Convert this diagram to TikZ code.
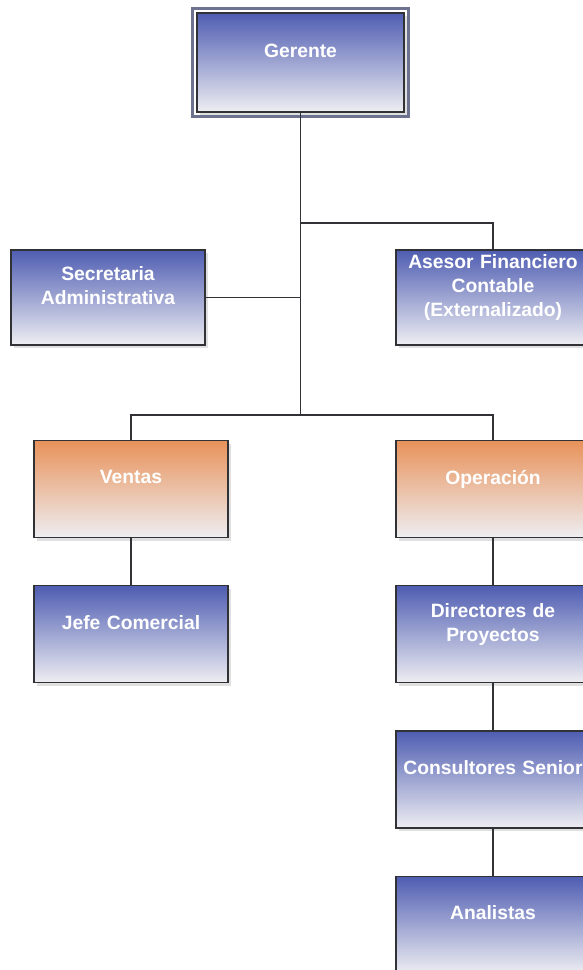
\documentclass[tikz,border=0pt]{standalone}
\usepackage{fontspec}
\setmainfont{Liberation Sans}
\usetikzlibrary{
    positioning,
    shadows,
    calc
}

\definecolor{boxblue}{HTML}{4F5DB2}
\definecolor{boxpale}{HTML}{EEEEF2}
\definecolor{boxorange}{HTML}{E8925A}
\definecolor{boxline}{HTML}{303236}
\definecolor{frameblue}{HTML}{6C7290}

\tikzset{
  orgbox/.style={
    draw=boxline,
    line width=1.3pt,
    minimum width=194pt,
    minimum height=97pt,
    text width=192pt,
    inner sep=1pt,
    align=center,
    font=\fontsize{19.3}{24}\selectfont\bfseries,
    text=white,
    top color=boxblue,
    bottom color=boxpale,
    drop shadow={shadow xshift=3pt, shadow yshift=-3pt, fill=black!12, opacity=1},
    execute at end node={\rule[-24pt]{0pt}{0pt}}
  },
  salesbox/.style={
    orgbox,
    top color=boxorange,
    bottom color=boxpale
  },
  orgline/.style={
    draw=boxline,
    line width=1.4pt
  },
  gerframe/.style={
    draw=frameblue,
    line width=3pt
  }
}

\begin{document}
\begin{tikzpicture}[x=1pt, y=1pt]

  \useasboundingbox (0,0) rectangle (583,-970);
  \clip (0,0) rectangle (583,-970);

  % top {{{
  \node[
    orgbox,
    minimum width=207pt,
    minimum height=99pt,
    text width=205pt
  ] (ger) at (300.5,-62.5)
  {Gerente};
  \draw[gerframe]
    ([shift={(-4pt,-4pt)}]ger.south west) rectangle
    ([shift={(4pt,4pt)}]ger.north east);
  % }}}

  % staff {{{
  \node[
    orgbox,
    minimum height=95pt
  ] (sec) at (108,-297.5)
  {Secretaria\\Administrativa};
  \node[
    orgbox,
    minimum height=95pt
  ] (ase) at (493,-297.5)
  {Asesor Financiero\\Contable\\(Externalizado)};
  % }}}

  % areas {{{
  \node[salesbox] (ven) at (131,-489) {Ventas};
  \node[salesbox] (ope) at (493,-489) {Operación};
  % }}}

  % below the areas {{{
  \node[orgbox, below=47pt of ven] (jef) {Jefe Comercial};
  \node[orgbox, below=47pt of ope] (dir) {Directores de\\Proyectos};
  \node[orgbox, below=47pt of dir] (con) {Consultores Senior};
  \node[orgbox, below=47pt of con] (ana) {Analistas};
  % }}}

  % lines {{{
  \coordinate (fork) at (300.5,-223);
  \coordinate (split) at (300.5,-415);
  \draw[orgline] (ger.south) -- (split);
  \draw[orgline] (fork) -| (ase.north);
  \draw[orgline] (sec.east) -- (sec.east -| ger.south);
  \draw[orgline] (ven.north) |- (split) -| (ope.north);
  \draw[orgline] (ven.south) -- (jef.north);
  \draw[orgline] (ope.south) -- (dir.north);
  \draw[orgline] (dir.south) -- (con.north);
  \draw[orgline] (con.south) -- (ana.north);
  % }}}

\end{tikzpicture}
\end{document}
